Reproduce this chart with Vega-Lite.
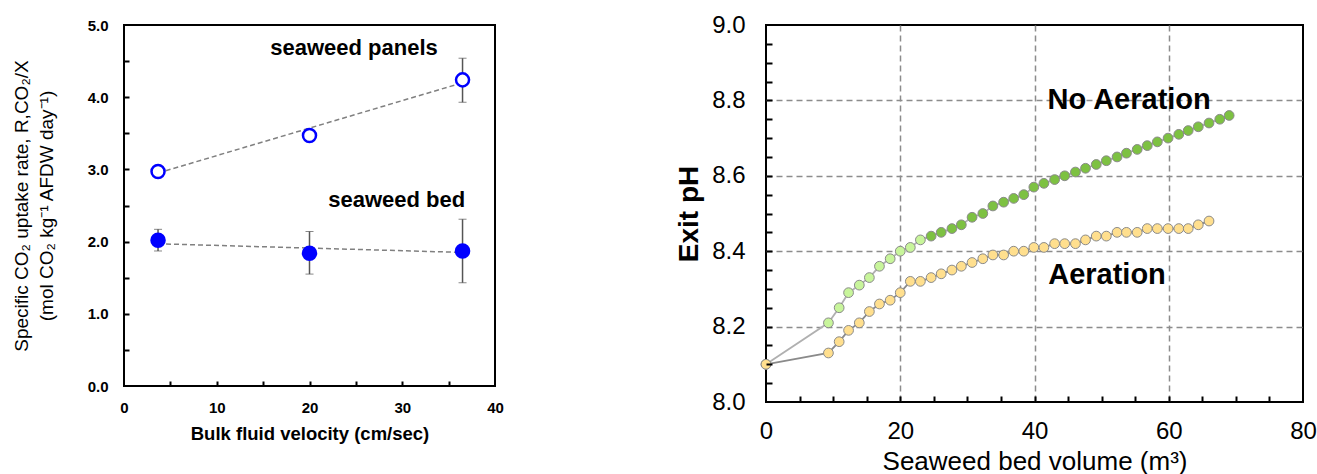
{
  "$schema": "https://vega.github.io/schema/vega-lite/v6.json",
  "background": "white",
  "padding": {"left": 11, "top": 12, "right": 0, "bottom": 0},
  "spacing": 169,
  "config": {
    "font": "Liberation Sans",
    "view": {"stroke": "black", "strokeWidth": 2},
    "axis": {"grid": false, "domain": false, "tickColor": "black", "tickWidth": 1.5, "labelColor": "black", "titleColor": "black", "labelFlush": false, "labelOverlap": false}
  },
  "resolve": {"scale": {"x": "independent", "y": "independent", "fill": "independent", "stroke": "independent"}},
  "datasets": {
    "uptake": [
      {"series": "seaweed panels", "velocity": 3.67, "rate": 2.97},
      {"series": "seaweed panels", "velocity": 20.0, "rate": 3.47},
      {"series": "seaweed panels", "velocity": 36.5, "rate": 4.24, "lo": 3.93, "hi": 4.54},
      {"series": "seaweed bed", "velocity": 3.67, "rate": 2.02, "lo": 1.87, "hi": 2.17},
      {"series": "seaweed bed", "velocity": 20.0, "rate": 1.84, "lo": 1.55, "hi": 2.14},
      {"series": "seaweed bed", "velocity": 36.5, "rate": 1.87, "lo": 1.43, "hi": 2.31}
    ],
    "trend": [
      {"series": "seaweed panels", "velocity": 3.67, "rate": 2.95},
      {"series": "seaweed panels", "velocity": 36.5, "rate": 4.2},
      {"series": "seaweed bed", "velocity": 3.67, "rate": 1.97},
      {"series": "seaweed bed", "velocity": 36.5, "rate": 1.85}
    ],
    "leftLabels": [
      {"text": "seaweed panels", "velocity": 24.8, "rate": 4.68},
      {"text": "seaweed bed", "velocity": 29.4, "rate": 2.58}
    ],
    "ph": [
      {"series": "No Aeration", "volume": 0, "pH": 8.10},
      {"series": "No Aeration", "volume": 9.3, "pH": 8.21},
      {"series": "No Aeration", "volume": 10.9, "pH": 8.25},
      {"series": "No Aeration", "volume": 12.3, "pH": 8.29},
      {"series": "No Aeration", "volume": 13.9, "pH": 8.31},
      {"series": "No Aeration", "volume": 15.4, "pH": 8.33},
      {"series": "No Aeration", "volume": 16.9, "pH": 8.36},
      {"series": "No Aeration", "volume": 18.5, "pH": 8.38},
      {"series": "No Aeration", "volume": 20.0, "pH": 8.40},
      {"series": "No Aeration", "volume": 21.5, "pH": 8.41},
      {"series": "No Aeration", "volume": 23.0, "pH": 8.43},
      {"series": "No Aeration", "volume": 24.6, "pH": 8.44},
      {"series": "No Aeration", "volume": 26.1, "pH": 8.45},
      {"series": "No Aeration", "volume": 27.7, "pH": 8.46},
      {"series": "No Aeration", "volume": 29.1, "pH": 8.47},
      {"series": "No Aeration", "volume": 30.7, "pH": 8.49},
      {"series": "No Aeration", "volume": 32.3, "pH": 8.50},
      {"series": "No Aeration", "volume": 33.8, "pH": 8.52},
      {"series": "No Aeration", "volume": 35.4, "pH": 8.53},
      {"series": "No Aeration", "volume": 36.9, "pH": 8.54},
      {"series": "No Aeration", "volume": 38.4, "pH": 8.55},
      {"series": "No Aeration", "volume": 39.9, "pH": 8.57},
      {"series": "No Aeration", "volume": 41.4, "pH": 8.58},
      {"series": "No Aeration", "volume": 43.0, "pH": 8.59},
      {"series": "No Aeration", "volume": 44.5, "pH": 8.60},
      {"series": "No Aeration", "volume": 46.1, "pH": 8.61},
      {"series": "No Aeration", "volume": 47.6, "pH": 8.62},
      {"series": "No Aeration", "volume": 49.2, "pH": 8.63},
      {"series": "No Aeration", "volume": 50.7, "pH": 8.64},
      {"series": "No Aeration", "volume": 52.3, "pH": 8.65},
      {"series": "No Aeration", "volume": 53.7, "pH": 8.66},
      {"series": "No Aeration", "volume": 55.3, "pH": 8.67},
      {"series": "No Aeration", "volume": 56.8, "pH": 8.68},
      {"series": "No Aeration", "volume": 58.3, "pH": 8.69},
      {"series": "No Aeration", "volume": 59.9, "pH": 8.70},
      {"series": "No Aeration", "volume": 61.5, "pH": 8.71},
      {"series": "No Aeration", "volume": 62.9, "pH": 8.72},
      {"series": "No Aeration", "volume": 64.4, "pH": 8.73},
      {"series": "No Aeration", "volume": 66.0, "pH": 8.74},
      {"series": "No Aeration", "volume": 67.6, "pH": 8.75},
      {"series": "No Aeration", "volume": 69.0, "pH": 8.76},
      {"series": "Aeration", "volume": 0, "pH": 8.10},
      {"series": "Aeration", "volume": 9.3, "pH": 8.13},
      {"series": "Aeration", "volume": 10.9, "pH": 8.16},
      {"series": "Aeration", "volume": 12.3, "pH": 8.19},
      {"series": "Aeration", "volume": 13.9, "pH": 8.21},
      {"series": "Aeration", "volume": 15.4, "pH": 8.24},
      {"series": "Aeration", "volume": 16.9, "pH": 8.26},
      {"series": "Aeration", "volume": 18.5, "pH": 8.27},
      {"series": "Aeration", "volume": 20.0, "pH": 8.29},
      {"series": "Aeration", "volume": 21.5, "pH": 8.32},
      {"series": "Aeration", "volume": 23.0, "pH": 8.32},
      {"series": "Aeration", "volume": 24.6, "pH": 8.33},
      {"series": "Aeration", "volume": 26.1, "pH": 8.34},
      {"series": "Aeration", "volume": 27.7, "pH": 8.35},
      {"series": "Aeration", "volume": 29.1, "pH": 8.36},
      {"series": "Aeration", "volume": 30.7, "pH": 8.37},
      {"series": "Aeration", "volume": 32.3, "pH": 8.38},
      {"series": "Aeration", "volume": 33.8, "pH": 8.39},
      {"series": "Aeration", "volume": 35.4, "pH": 8.39},
      {"series": "Aeration", "volume": 36.9, "pH": 8.40},
      {"series": "Aeration", "volume": 38.4, "pH": 8.40},
      {"series": "Aeration", "volume": 39.9, "pH": 8.41},
      {"series": "Aeration", "volume": 41.4, "pH": 8.41},
      {"series": "Aeration", "volume": 43.0, "pH": 8.42},
      {"series": "Aeration", "volume": 44.5, "pH": 8.42},
      {"series": "Aeration", "volume": 46.1, "pH": 8.42},
      {"series": "Aeration", "volume": 47.6, "pH": 8.43},
      {"series": "Aeration", "volume": 49.2, "pH": 8.44},
      {"series": "Aeration", "volume": 50.7, "pH": 8.44},
      {"series": "Aeration", "volume": 52.3, "pH": 8.45},
      {"series": "Aeration", "volume": 53.7, "pH": 8.45},
      {"series": "Aeration", "volume": 55.3, "pH": 8.45},
      {"series": "Aeration", "volume": 56.8, "pH": 8.46},
      {"series": "Aeration", "volume": 58.3, "pH": 8.46},
      {"series": "Aeration", "volume": 59.9, "pH": 8.46},
      {"series": "Aeration", "volume": 61.5, "pH": 8.46},
      {"series": "Aeration", "volume": 62.9, "pH": 8.46},
      {"series": "Aeration", "volume": 64.4, "pH": 8.47},
      {"series": "Aeration", "volume": 66.0, "pH": 8.48}
    ],
    "rightLabels": [
      {"text": "No Aeration", "volume": 54.1, "pH": 8.8},
      {"text": "Aeration", "volume": 50.8, "pH": 8.338}
    ]
  },
  "hconcat": [
    {
      "width": 371,
      "height": 361,
      "resolve": {"axis": {"x": "independent", "y": "independent"}},
      "layer": [
        {
          "data": {"name": "trend"},
          "mark": {"type": "line", "strokeDash": [5, 3], "color": "#808080", "strokeWidth": 1.5},
          "encoding": {
            "x": {
              "field": "velocity", "type": "quantitative",
              "scale": {"domain": [0, 40], "nice": false},
              "axis": {
                "title": "Bulk fluid velocity (cm/sec)",
                "values": [0, 10, 20, 30, 40],
                "ticks": false, "labelPadding": 14,
                "labelFontSize": 15, "labelFontWeight": "bold",
                "titleFontSize": 18.5, "titleFontWeight": "bold", "titlePadding": 9
              }
            },
            "y": {
              "field": "rate", "type": "quantitative",
              "scale": {"domain": [0, 5], "nice": false},
              "axis": {
                "title": ["Specific CO₂ uptake rate, R,CO₂/X", "(mol CO₂ kg⁻¹ AFDW day⁻¹)"],
                "values": [0, 1, 2, 3, 4, 5],
                "format": ".1f",
                "ticks": false, "labelPadding": 16,
                "labelFontSize": 15, "labelFontWeight": "bold",
                "titleFontSize": 19, "titleFontWeight": "normal", "titlePadding": 31, "titleLineHeight": 25
              }
            },
            "detail": {"field": "series"}
          }
        },
        {
          "data": {"name": "uptake"},
          "transform": [{"filter": "isValid(datum.lo)"}],
          "mark": {"type": "errorbar", "ticks": {"color": "#555555", "size": 8, "strokeWidth": 1.5}, "rule": {"color": "#555555", "strokeWidth": 1.5}},
          "encoding": {
            "x": {"field": "velocity", "type": "quantitative", "axis": null},
            "y": {"field": "lo", "type": "quantitative", "axis": null},
            "y2": {"field": "hi"}
          }
        },
        {
          "data": {"name": "uptake"},
          "mark": {"type": "point", "shape": "circle", "size": 170, "strokeWidth": 2.5, "stroke": "#0000ff", "opacity": 1, "fillOpacity": 1},
          "encoding": {
            "x": {
              "field": "velocity", "type": "quantitative",
              "axis": {"orient": "top", "offset": -361, "values": [5, 10, 15, 20, 25, 30, 35], "labels": false, "title": null, "domain": false, "ticks": true, "tickSize": 5, "tickWidth": 2, "zindex": 1}
            },
            "y": {
              "field": "rate", "type": "quantitative",
              "axis": {"orient": "right", "offset": -371, "values": [0.5, 1, 1.5, 2, 2.5, 3, 3.5, 4, 4.5], "labels": false, "title": null, "domain": false, "ticks": true, "tickSize": 5, "tickWidth": 2, "zindex": 1}
            },
            "fill": {"field": "series", "type": "nominal", "scale": {"domain": ["seaweed panels", "seaweed bed"], "range": ["#ffffff", "#0000ff"]}, "legend": null}
          }
        },
        {
          "data": {"name": "leftLabels"},
          "mark": {"type": "text", "fontSize": 22, "fontWeight": "bold", "color": "black"},
          "encoding": {
            "x": {"field": "velocity", "type": "quantitative", "axis": null},
            "y": {"field": "rate", "type": "quantitative", "axis": null},
            "text": {"field": "text"}
          }
        }
      ]
    },
    {
      "width": 537,
      "height": 377,
      "resolve": {"axis": {"x": "independent", "y": "independent"}},
      "layer": [
        {
          "data": {"name": "ph"},
          "mark": {"type": "line", "strokeWidth": 1.8},
          "encoding": {
            "x": {
              "field": "volume", "type": "quantitative",
              "scale": {"domain": [0, 80], "nice": false},
              "axis": {
                "title": "Seaweed bed volume (m³)",
                "values": [0, 20, 40, 60, 80],
                "ticks": false, "labelPadding": 17,
                "labelFontSize": 24, "titleFontSize": 26, "titleFontWeight": "normal", "titlePadding": 5,
                "grid": true, "gridDash": [6, 4], "gridColor": "#8c8c8c", "gridWidth": 1.5,
                "gridOpacity": {"condition": {"test": "datum.value > 0 && datum.value < 80", "value": 1}, "value": 0}
              }
            },
            "y": {
              "field": "pH", "type": "quantitative",
              "scale": {"domain": [8, 9], "nice": false, "zero": false},
              "axis": {
                "title": "Exit pH",
                "values": [8, 8.2, 8.4, 8.6, 8.8, 9],
                "format": ".1f",
                "ticks": false, "labelPadding": 21,
                "labelFontSize": 24, "titleFontSize": 28, "titleFontWeight": "bold", "titlePadding": 8,
                "grid": true, "gridDash": [6, 4], "gridColor": "#8c8c8c", "gridWidth": 1.5,
                "gridOpacity": {"condition": {"test": "datum.value > 8.01 && datum.value < 8.99", "value": 1}, "value": 0}
              }
            },
            "stroke": {"field": "series", "type": "nominal", "scale": {"domain": ["Aeration", "No Aeration"], "range": ["#8a8a8a", "#b0b0b0"]}, "legend": null}
          }
        },
        {
          "data": {"name": "ph"},
          "mark": {"type": "point", "shape": "circle", "size": 95, "stroke": "#8a8a8a", "strokeWidth": 1, "opacity": 1, "fillOpacity": 1},
          "encoding": {
            "x": {
              "field": "volume", "type": "quantitative",
              "axis": {"orient": "top", "offset": -377, "values": [5, 10, 15, 20, 25, 30, 35, 40, 45, 50, 55, 60, 65, 70, 75], "labels": false, "title": null, "domain": false, "ticks": true, "tickSize": 6, "tickWidth": 2, "zindex": 1}
            },
            "y": {
              "field": "pH", "type": "quantitative",
              "axis": {"orient": "right", "offset": -537, "values": [8.05, 8.1, 8.15, 8.2, 8.25, 8.3, 8.35, 8.4, 8.45, 8.5, 8.55, 8.6, 8.65, 8.7, 8.75, 8.8, 8.85, 8.9, 8.95], "labels": false, "title": null, "domain": false, "ticks": true, "tickSize": 6, "tickWidth": 2, "zindex": 1}
            },
            "fill": {
              "condition": {"test": "datum.series === 'No Aeration' && datum.volume > 1 && datum.volume < 24", "value": "#c8f59b"},
              "field": "series", "type": "nominal",
              "scale": {"domain": ["Aeration", "No Aeration"], "range": ["#ffdf8e", "#7dc142"]},
              "legend": null
            }
          }
        },
        {
          "data": {"name": "rightLabels"},
          "mark": {"type": "text", "fontSize": 29, "fontWeight": "bold", "color": "black"},
          "encoding": {
            "x": {"field": "volume", "type": "quantitative", "axis": null},
            "y": {"field": "pH", "type": "quantitative", "axis": null},
            "text": {"field": "text"}
          }
        }
      ]
    }
  ]
}
